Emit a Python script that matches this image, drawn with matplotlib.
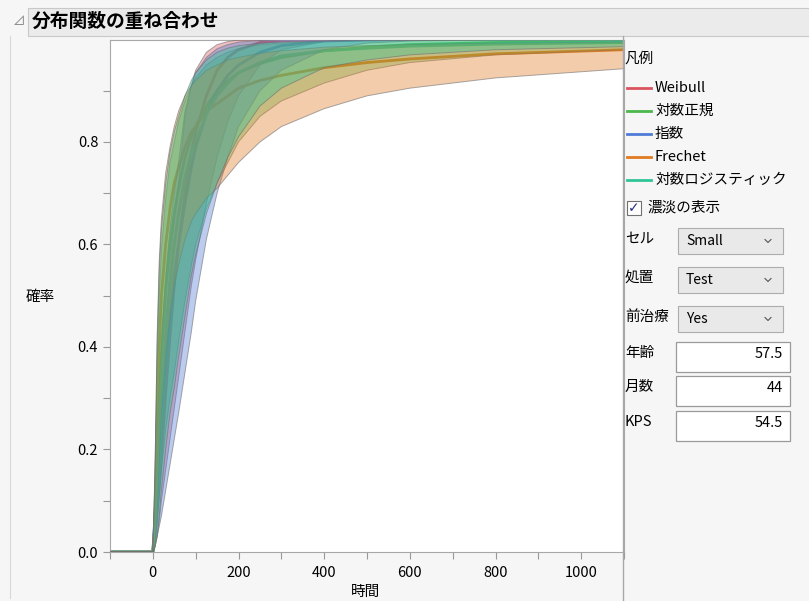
import matplotlib
matplotlib.use("Agg")
import matplotlib.pyplot as plt
import matplotlib.patches as patches
from matplotlib.lines import Line2D
from matplotlib.ticker import MultipleLocator

plt.rcParams['font.family'] = ['Noto Sans CJK JP', 'DejaVu Sans']

# time grid
t = [-100, 0, 5, 10, 15, 20, 30, 40, 50, 60, 75, 90, 100, 125, 150, 175, 200,
     250, 300, 400, 500, 600, 800, 1100]

# Weibull
weibull_est = [0, 0, .03, .08, .13, .19, .31, .42, .52, .60, .70, .78, .82, .89, .94, .965, .98,
               .994, .998, 1, 1, 1, 1, 1]
weibull_lo = [0, 0, .01, .03, .06, .10, .16, .22, .28, .34, .43, .52, .57, .68, .77, .84, .89,
              .95, .98, .996, 1, 1, 1, 1]
weibull_hi = [0, 0, .08, .17, .25, .32, .45, .56, .65, .72, .85, .91, .94, .975, .99, .996, .999,
              1, 1, 1, 1, 1, 1, 1]

# 対数正規
lognorm_est = [0, 0, .06, .18, .29, .38, .51, .60, .66, .71, .77, .81, .83, .87, .90, .92, .935,
               .953, .965, .978, .985, .99, .994, .997]
lognorm_lo = [0, 0, .02, .06, .11, .16, .24, .30, .35, .41, .49, .56, .60, .67, .72, .76, .80,
              .85, .88, .915, .94, .955, .97, .98]
lognorm_hi = [0, 0, .14, .36, .50, .59, .69, .76, .80, .84, .88, .91, .925, .95, .965, .975, .982,
              .99, .993, .996, .998, .999, .999, 1]

# 指数
expon_est = [0, 0, .07, .14, .20, .26, .37, .46, .54, .60, .68, .75, .79, .855, .90, .93, .95,
             .975, .988, .997, .999, 1, 1, 1]
expon_lo = [0, 0, .01, .03, .05, .07, .12, .17, .22, .27, .35, .43, .49, .61, .70, .77, .83,
            .90, .94, .98, .993, .997, 1, 1]
expon_hi = [0, 0, .12, .24, .33, .41, .54, .63, .70, .76, .86, .91, .935, .965, .982, .99, .995,
            .998, 1, 1, 1, 1, 1, 1]

# Frechet
frechet_est = [0, 0, .05, .25, .40, .50, .60, .67, .72, .75, .79, .82, .83, .86, .875, .89, .905,
               .92, .93, .945, .955, .962, .972, .98]
frechet_lo = [0, 0, .01, .08, .18, .27, .38, .46, .52, .56, .61, .645, .66, .69, .71, .735, .76,
              .80, .83, .865, .89, .905, .925, .943]
frechet_hi = [0, 0, .15, .42, .57, .65, .74, .79, .83, .86, .89, .91, .92, .94, .95, .96, .965,
              .973, .978, .985, .988, .99, .993, .995]

# 対数ロジスティック
loglogis_est = [0, 0, .03, .10, .18, .27, .42, .52, .60, .66, .73, .78, .80, .855, .89, .915, .935,
                .955, .968, .978, .983, .987, .991, .994]
loglogis_lo = [0, 0, .01, .03, .07, .12, .20, .27, .32, .38, .46, .54, .58, .66, .72, .77, .81,
               .87, .905, .945, .96, .97, .98, .986]
loglogis_hi = [0, 0, .16, .40, .55, .63, .72, .78, .82, .85, .89, .92, .935, .96, .975, .983, .988,
               .993, .995, .997, .998, .998, .999, .999]

names = ['Weibull', '対数正規', '指数', 'Frechet', '対数ロジスティック']
colors = ['#d9545f', '#4cb84c', '#4f7bd6', '#e07b22', '#2fc497']
estimates = [weibull_est, lognorm_est, expon_est, frechet_est, loglogis_est]
lowers = [weibull_lo, lognorm_lo, expon_lo, frechet_lo, loglogis_lo]
uppers = [weibull_hi, lognorm_hi, expon_hi, frechet_hi, loglogis_hi]

# control panel values
ctrl_labels = ['セル', '処置', '前治療']
ctrl_values = ['Small', 'Test', 'Yes']
field_labels = ['年齢', '月数', 'KPS']
field_values = ['57.5', '44', '54.5']

W, H = 809, 601
fig = plt.figure(figsize=(W / 100, H / 100), dpi=100)
fig.patch.set_facecolor('#f6f6f6')


def fx(x):
    return x / W


def fy(y):
    return 1 - y / H


# title bar
fig.patches.append(patches.Rectangle((fx(28), fy(36)), fx(790), 28 / H, transform=fig.transFigure,
                                     facecolor='#ebebeb', edgecolor='#c8c8c8', lw=0.8))
fig.text(fx(13), fy(22), '⊿', fontsize=9, color='#808080', va='center', ha='left')
fig.text(fx(32), fy(21), '分布関数の重ね合わせ', fontsize=13.5, fontweight='bold', va='center', ha='left')

# panel separators
fig.lines.append(Line2D([fx(10), fx(10)], [fy(36), fy(598)], transform=fig.transFigure,
                        color='#d8d8d8', lw=0.8))
fig.lines.append(Line2D([fx(623), fx(623)], [fy(36), fy(601)], transform=fig.transFigure,
                        color='#a8a8a8', lw=1))

ax = fig.add_axes([fx(110), fy(552), fx(624) - fx(110), fy(40) - fy(552)])
ax.set_facecolor('white')

for est, c in zip(estimates, colors):
    ax.plot(t, est, color=c, lw=2, zorder=2)
for lo, hi, c in zip(lowers, uppers, colors):
    ax.fill_between(t, lo, hi, facecolor=c, alpha=0.38, edgecolor='none', zorder=3)
    ax.plot(t, lo, color='#707070', lw=0.7, alpha=0.6, zorder=3)
    ax.plot(t, hi, color='#707070', lw=0.7, alpha=0.6, zorder=3)

ax.set_xlim(-100, 1100)
ax.set_ylim(0, 0.999)
ax.xaxis.set_major_locator(MultipleLocator(200))
ax.xaxis.set_minor_locator(MultipleLocator(100))
ax.yaxis.set_major_locator(MultipleLocator(0.2))
ax.yaxis.set_minor_locator(MultipleLocator(0.1))
ax.yaxis.set_major_formatter(matplotlib.ticker.FormatStrFormatter('%.1f'))
ax.tick_params(which='both', colors='#999999', labelcolor='black', labelsize=10.5, length=5, width=0.8)
ax.tick_params(axis='x', pad=5)
for s in ax.spines.values():
    s.set_color('#a8a8a8')

fig.text(fx(40), fy(297), '確率', fontsize=10.5, ha='center', va='center')
fig.text(fx(366), fy(592), '時間', fontsize=10.5, ha='center', va='center')

# legend
fig.text(fx(624), fy(59), '凡例', fontsize=10.5, ha='left', va='center')
leg_y = [88, 111, 134, 157, 180]
for name, c, y in zip(names, colors, leg_y):
    fig.lines.append(Line2D([fx(627), fx(651)], [fy(y), fy(y)], transform=fig.transFigure, color=c, lw=2))
    fig.text(fx(655), fy(y), name, fontsize=10.5, ha='left', va='center')

# checkbox
fig.patches.append(patches.Rectangle((fx(627), fy(215)), 14 / W, 14 / H, transform=fig.transFigure,
                                     facecolor='white', edgecolor='#707070', lw=0.8))
fig.text(fx(634), fy(208), '✓', fontsize=10, color='#22308a', ha='center', va='center',
         family=['DejaVu Sans'], fontweight='bold')
fig.text(fx(647), fy(208), '濃淡の表示', fontsize=10.5, ha='left', va='center')

# dropdowns
drop_y = [228, 267, 306]
for lab, val, y in zip(ctrl_labels, ctrl_values, drop_y):
    fig.text(fx(625), fy(y + 11), lab, fontsize=10.5, ha='left', va='center')
    fig.patches.append(patches.Rectangle((fx(678), fy(y + 26)), 105 / W, 26 / H, transform=fig.transFigure,
                                         facecolor='#e9e9e9', edgecolor='#adadad', lw=0.8))
    fig.text(fx(686), fy(y + 13), val, fontsize=10, ha='left', va='center')
    cx, cy = 768, y + 13
    fig.lines.append(Line2D([fx(cx - 3), fx(cx), fx(cx + 3)], [fy(cy - 1.5), fy(cy + 1.5), fy(cy - 1.5)],
                            transform=fig.transFigure, color='#555555', lw=0.8))

# numeric fields
field_y = [342, 376, 411]
for lab, val, y in zip(field_labels, field_values, field_y):
    fig.text(fx(625), fy(y + 11), lab, fontsize=10.5, ha='left', va='center')
    fig.patches.append(patches.Rectangle((fx(676), fy(y + 30)), 114 / W, 30 / H, transform=fig.transFigure,
                                         facecolor='white', edgecolor='#9a9a9a', lw=0.9))
    fig.text(fx(783), fy(y + 12), val, fontsize=10.5, ha='right', va='center')

fig.savefig('out.png', dpi=100, facecolor=fig.get_facecolor())
